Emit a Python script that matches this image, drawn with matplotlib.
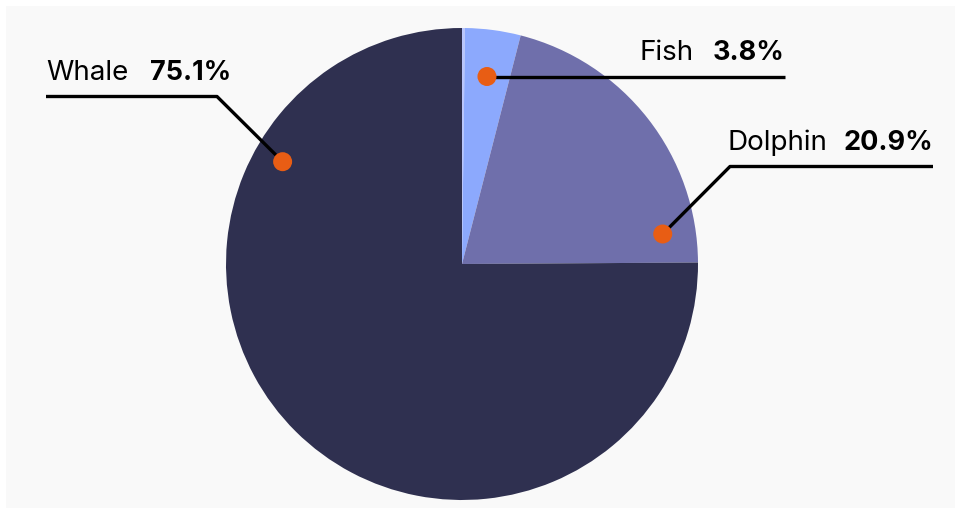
import matplotlib.pyplot as plt
import matplotlib.patches as mp
import numpy as np

# slice data, clockwise from 12 o'clock
names = ['Other', 'Fish', 'Dolphin', 'Whale']
shares = [0.2, 3.8, 20.9, 75.1]
colors = ['#b9c5fb', '#8ca9fd', '#6f6fab', '#2f3050']

# labelled slices
labels = ['Whale', 'Fish', 'Dolphin']

W, H = 959, 512
fig = plt.figure(figsize=(W / 100, H / 100), dpi=100)
fig.patch.set_facecolor('white')
ax = fig.add_axes([0, 0, 1, 1])

# light panel behind the chart
ax.add_patch(mp.Rectangle((6, 4), 949, 502, color='#f9f9f9', lw=0, zorder=0))

cx, cy, R = 462, H - 264, 236
ax.pie(shares, colors=colors, startangle=90, counterclock=False,
       center=(cx, cy), radius=R, frame=True,
       wedgeprops=dict(linewidth=0))
ax.set_xlim(0, W)
ax.set_ylim(0, H)
ax.set_aspect('equal')
ax.axis('off')

# dot position (angle deg, radius fraction), elbow and line end for each label
layout = {
    'Whale':   dict(ang=150.3, rf=0.875, elbow=(217, H - 96.5), end=(46, H - 96.5),
                    text_x=46, text_y=H - 80, side='left'),
    'Fish':    dict(ang=82.4, rf=0.80, elbow=None, end=(785, H - 76.5),
                    text_x=785, text_y=H - 60, side='right'),
    'Dolphin': dict(ang=8.5, rf=0.86, elbow=(730, H - 166.5), end=(933, H - 166.5),
                    text_x=933, text_y=H - 150, side='right'),
}

font = 'Inter'
fs_name = 20
fs_pct = 19.5
for name in labels:
    val = shares[names.index(name)]
    lay = layout[name]
    a = np.deg2rad(lay['ang'])
    px = cx + lay['rf'] * R * np.cos(a)
    py = cy + lay['rf'] * R * np.sin(a)
    if lay['elbow'] is None:
        xs, ys = [px, lay['end'][0]], [lay['end'][1], lay['end'][1]]
        py = lay['end'][1]
    else:
        xs = [px, lay['elbow'][0], lay['end'][0]]
        ys = [py, lay['elbow'][1], lay['end'][1]]
    ax.plot(xs, ys, color='black', lw=2.4, solid_capstyle='butt', zorder=3)
    ax.add_patch(mp.Circle((px, py), 9.5, color='#e85d14', lw=0, zorder=4))

    pct = f'{val:.1f}%'
    if lay['side'] == 'left':
        ax.text(lay['text_x'], lay['text_y'], name, fontsize=fs_name, family=font,
                ha='left', va='baseline', color='black')
        ax.text(150, lay['text_y'], pct, fontsize=fs_pct, family=font,
                fontweight='bold', ha='left', va='baseline', color='black')
    else:
        ax.text(lay['text_x'], lay['text_y'], pct, fontsize=fs_pct, family=font,
                fontweight='bold', ha='right', va='baseline', color='black')
        name_x = {'Fish': 640, 'Dolphin': 727}[name]
        ax.text(name_x, lay['text_y'], name, fontsize=fs_name, family=font,
                ha='left', va='baseline', color='black')

fig.savefig('out.png', dpi=100)
